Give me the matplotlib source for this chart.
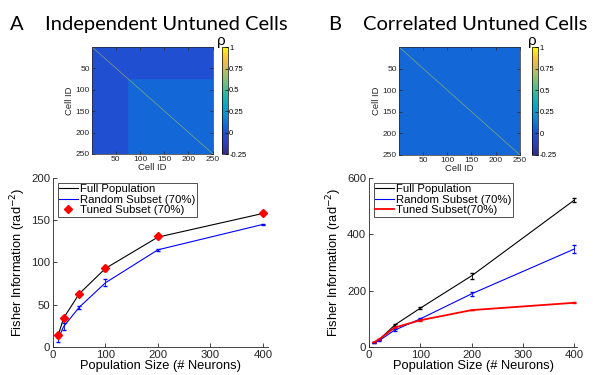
import numpy as np
import matplotlib
matplotlib.use('Agg')
import matplotlib.pyplot as plt
from matplotlib.colors import LinearSegmentedColormap
from matplotlib.lines import Line2D

plt.rcParams['font.family'] = ['Liberation Sans', 'DejaVu Sans']

# population sizes
pop_sizes = [10, 20, 50, 100, 200, 400]

# panel A values (rad^-2)
a_full = [14, 34, 63, 93, 130, 158]
a_full_err = [1, 1, 1, 1, 1, 1]
a_random = [10, 24, 47, 76, 115, 145]
a_random_err = [4, 4, 1.5, 4, 1, 0.5]
a_tuned = [14, 34, 63, 93, 131, 158]
a_tuned_err = [3, 2.5, 2.5, 3, 2, 2]

# panel B values
b_full = [16, 26, 78, 138, 253, 522]
b_full_err = [1, 2, 5, 3, 10, 8]
b_random = [16, 23, 60, 100, 189, 348]
b_random_err = [1, 2, 5, 3, 7, 14]
b_tuned = [17, 28, 69, 95, 131, 157]
b_tuned_err = [1, 2, 3, 2, 1, 1]

# correlation structure of the 250 cells
n_cells = 250
a_split = 75          # first cells independent in panel A
rho_indep = 0.0
rho_corr_a = 0.07
rho_corr_b = 0.07

# parula-like colormap (matched to the reference colorbar)
parula_pts = [
    (0.00, (0.21, 0.17, 0.53)), (0.10, (0.17, 0.25, 0.75)), (0.20, (0.13, 0.31, 0.82)),
    (0.27, (0.06, 0.43, 0.85)), (0.35, (0.07, 0.54, 0.83)), (0.45, (0.03, 0.65, 0.78)),
    (0.55, (0.15, 0.71, 0.66)), (0.65, (0.40, 0.75, 0.52)), (0.75, (0.65, 0.75, 0.42)),
    (0.85, (0.90, 0.73, 0.31)), (0.92, (0.99, 0.79, 0.20)), (1.00, (0.98, 0.98, 0.05))]
parula = LinearSegmentedColormap.from_list('parula', parula_pts)


def corr_a():
    m = np.full((n_cells, n_cells), rho_indep)
    m[a_split:, a_split:] = rho_corr_a
    np.fill_diagonal(m, 1.0)
    return m


def corr_b():
    m = np.full((n_cells, n_cells), rho_corr_b)
    np.fill_diagonal(m, 1.0)
    return m


fig = plt.figure(figsize=(5.93, 3.75), dpi=100)


def draw_heat(rect, crect, mat):
    ax = fig.add_axes(rect)
    im = ax.imshow(mat, cmap=parula, vmin=-0.25, vmax=1, aspect='auto',
                   extent=(0.5, n_cells + 0.5, n_cells + 0.5, 0.5), interpolation='antialiased')
    ax.set_xticks([50, 100, 150, 200, 250])
    ax.set_yticks([50, 100, 150, 200, 250])
    ax.tick_params(direction='in', labelsize=6, length=2, width=0.5,
                   top=True, right=True, pad=1.5, colors='#262626')
    ax.set_xlabel('Cell ID', fontsize=6.8, labelpad=0, color='#262626')
    ax.set_ylabel('Cell ID', fontsize=6.8, labelpad=1, color='#262626')
    for s in ax.spines.values():
        s.set_linewidth(0.5)
        s.set_color('#262626')
    cax = fig.add_axes(crect)
    cb = fig.colorbar(im, cax=cax, ticks=[-0.25, 0, 0.25, 0.5, 0.75, 1])
    cb.ax.set_yticklabels(['-0.25', '0', '0.25', '0.5', '0.75', '1'])
    cb.ax.tick_params(direction='in', labelsize=5.5, length=2, width=0.5, pad=1)
    cb.outline.set_linewidth(0.5)
    cax.text(0.0, 0.99, 'ρ', transform=cax.transAxes, ha='center', va='bottom', fontsize=11)
    return ax


def draw_lines(rect, ymax, yticks, xmax):
    ax = fig.add_axes(rect)
    ax.set_xlim(0, xmax)
    ax.set_ylim(0, ymax)
    ax.set_xticks([0, 100, 200, 300, 400])
    ax.set_yticks(yticks)
    ax.spines['top'].set_visible(False)
    ax.spines['right'].set_visible(False)
    for s in ('left', 'bottom'):
        ax.spines[s].set_linewidth(0.6)
        ax.spines[s].set_color('#262626')
    ax.tick_params(direction='in', labelsize=8.2, length=3, width=0.6, pad=2, colors='#262626')
    ax.set_xlabel('Population Size (# Neurons)', fontsize=9.3, labelpad=0.5)
    ax.set_ylabel('Fisher Information (rad$^{-2}$)', fontsize=9.3, labelpad=2)
    return ax


def add_legend(ax, handles, labels):
    leg = ax.legend(handles, labels, loc='upper left', fontsize=8.2, frameon=True, fancybox=False,
                    edgecolor='k', handlelength=1.6, handletextpad=0.25, borderpad=0.15,
                    labelspacing=0.05, borderaxespad=0.4)
    leg.get_frame().set_linewidth(0.6)


# panel A
draw_heat([0.155, 0.589, 0.204, 0.285], [0.374, 0.589, 0.0101, 0.285], corr_a())
axA = draw_lines([0.0894, 0.0747, 0.3626, 0.4507], 200, [0, 50, 100, 150, 200], 410)
axA.errorbar(pop_sizes, a_full, yerr=a_full_err, color='k', lw=0.8, capsize=1.5,
             elinewidth=0.6)
axA.errorbar(pop_sizes, a_random, yerr=a_random_err, color='b', lw=0.8, capsize=1.5,
             elinewidth=0.6)
axA.errorbar(pop_sizes, a_tuned, yerr=a_tuned_err, color='r', ls='none', marker='D',
             ms=4.5, capsize=1.5, elinewidth=0.8)
add_legend(axA,
           [Line2D([], [], color='k', lw=0.8), Line2D([], [], color='b', lw=0.8),
            Line2D([], [], color='r', ls='none', marker='D', ms=4.5)],
           ['Full Population', 'Random Subset (70%)', 'Tuned Subset (70%)'])

# panel B
draw_heat([0.673, 0.587, 0.204, 0.287], [0.897, 0.587, 0.0101, 0.287], corr_b())
axB = draw_lines([0.6223, 0.0747, 0.3508, 0.4507], 600, [0, 200, 400, 600], 405)
axB.errorbar(pop_sizes, b_full, yerr=b_full_err, color='k', lw=0.8, capsize=1.5,
             elinewidth=0.6)
axB.errorbar(pop_sizes, b_random, yerr=b_random_err, color='b', lw=0.8, capsize=1.5,
             elinewidth=0.6)
axB.errorbar(pop_sizes, b_tuned, yerr=b_tuned_err, color='r', lw=1.3, capsize=1.5,
             elinewidth=0.8)
add_legend(axB,
           [Line2D([], [], color='k', lw=0.8), Line2D([], [], color='b', lw=0.8),
            Line2D([], [], color='r', lw=1.3)],
           ['Full Population', 'Random Subset (70%)', 'Tuned Subset(70%)'])

# panel titles
title_font = ['Lato', 'DejaVu Sans']
fig.text(10 / 593, 1 - 30 / 375, 'A', fontsize=14.5, family=title_font, va='baseline')
fig.text(45 / 593, 1 - 30 / 375, 'Independent Untuned Cells', fontsize=14.5, family=title_font, va='baseline')
fig.text(328 / 593, 1 - 30 / 375, 'B', fontsize=14.5, family=title_font, va='baseline')
fig.text(363 / 593, 1 - 30 / 375, 'Correlated Untuned Cells', fontsize=14.5, family=title_font, va='baseline')

fig.savefig('out.png', dpi=100)
